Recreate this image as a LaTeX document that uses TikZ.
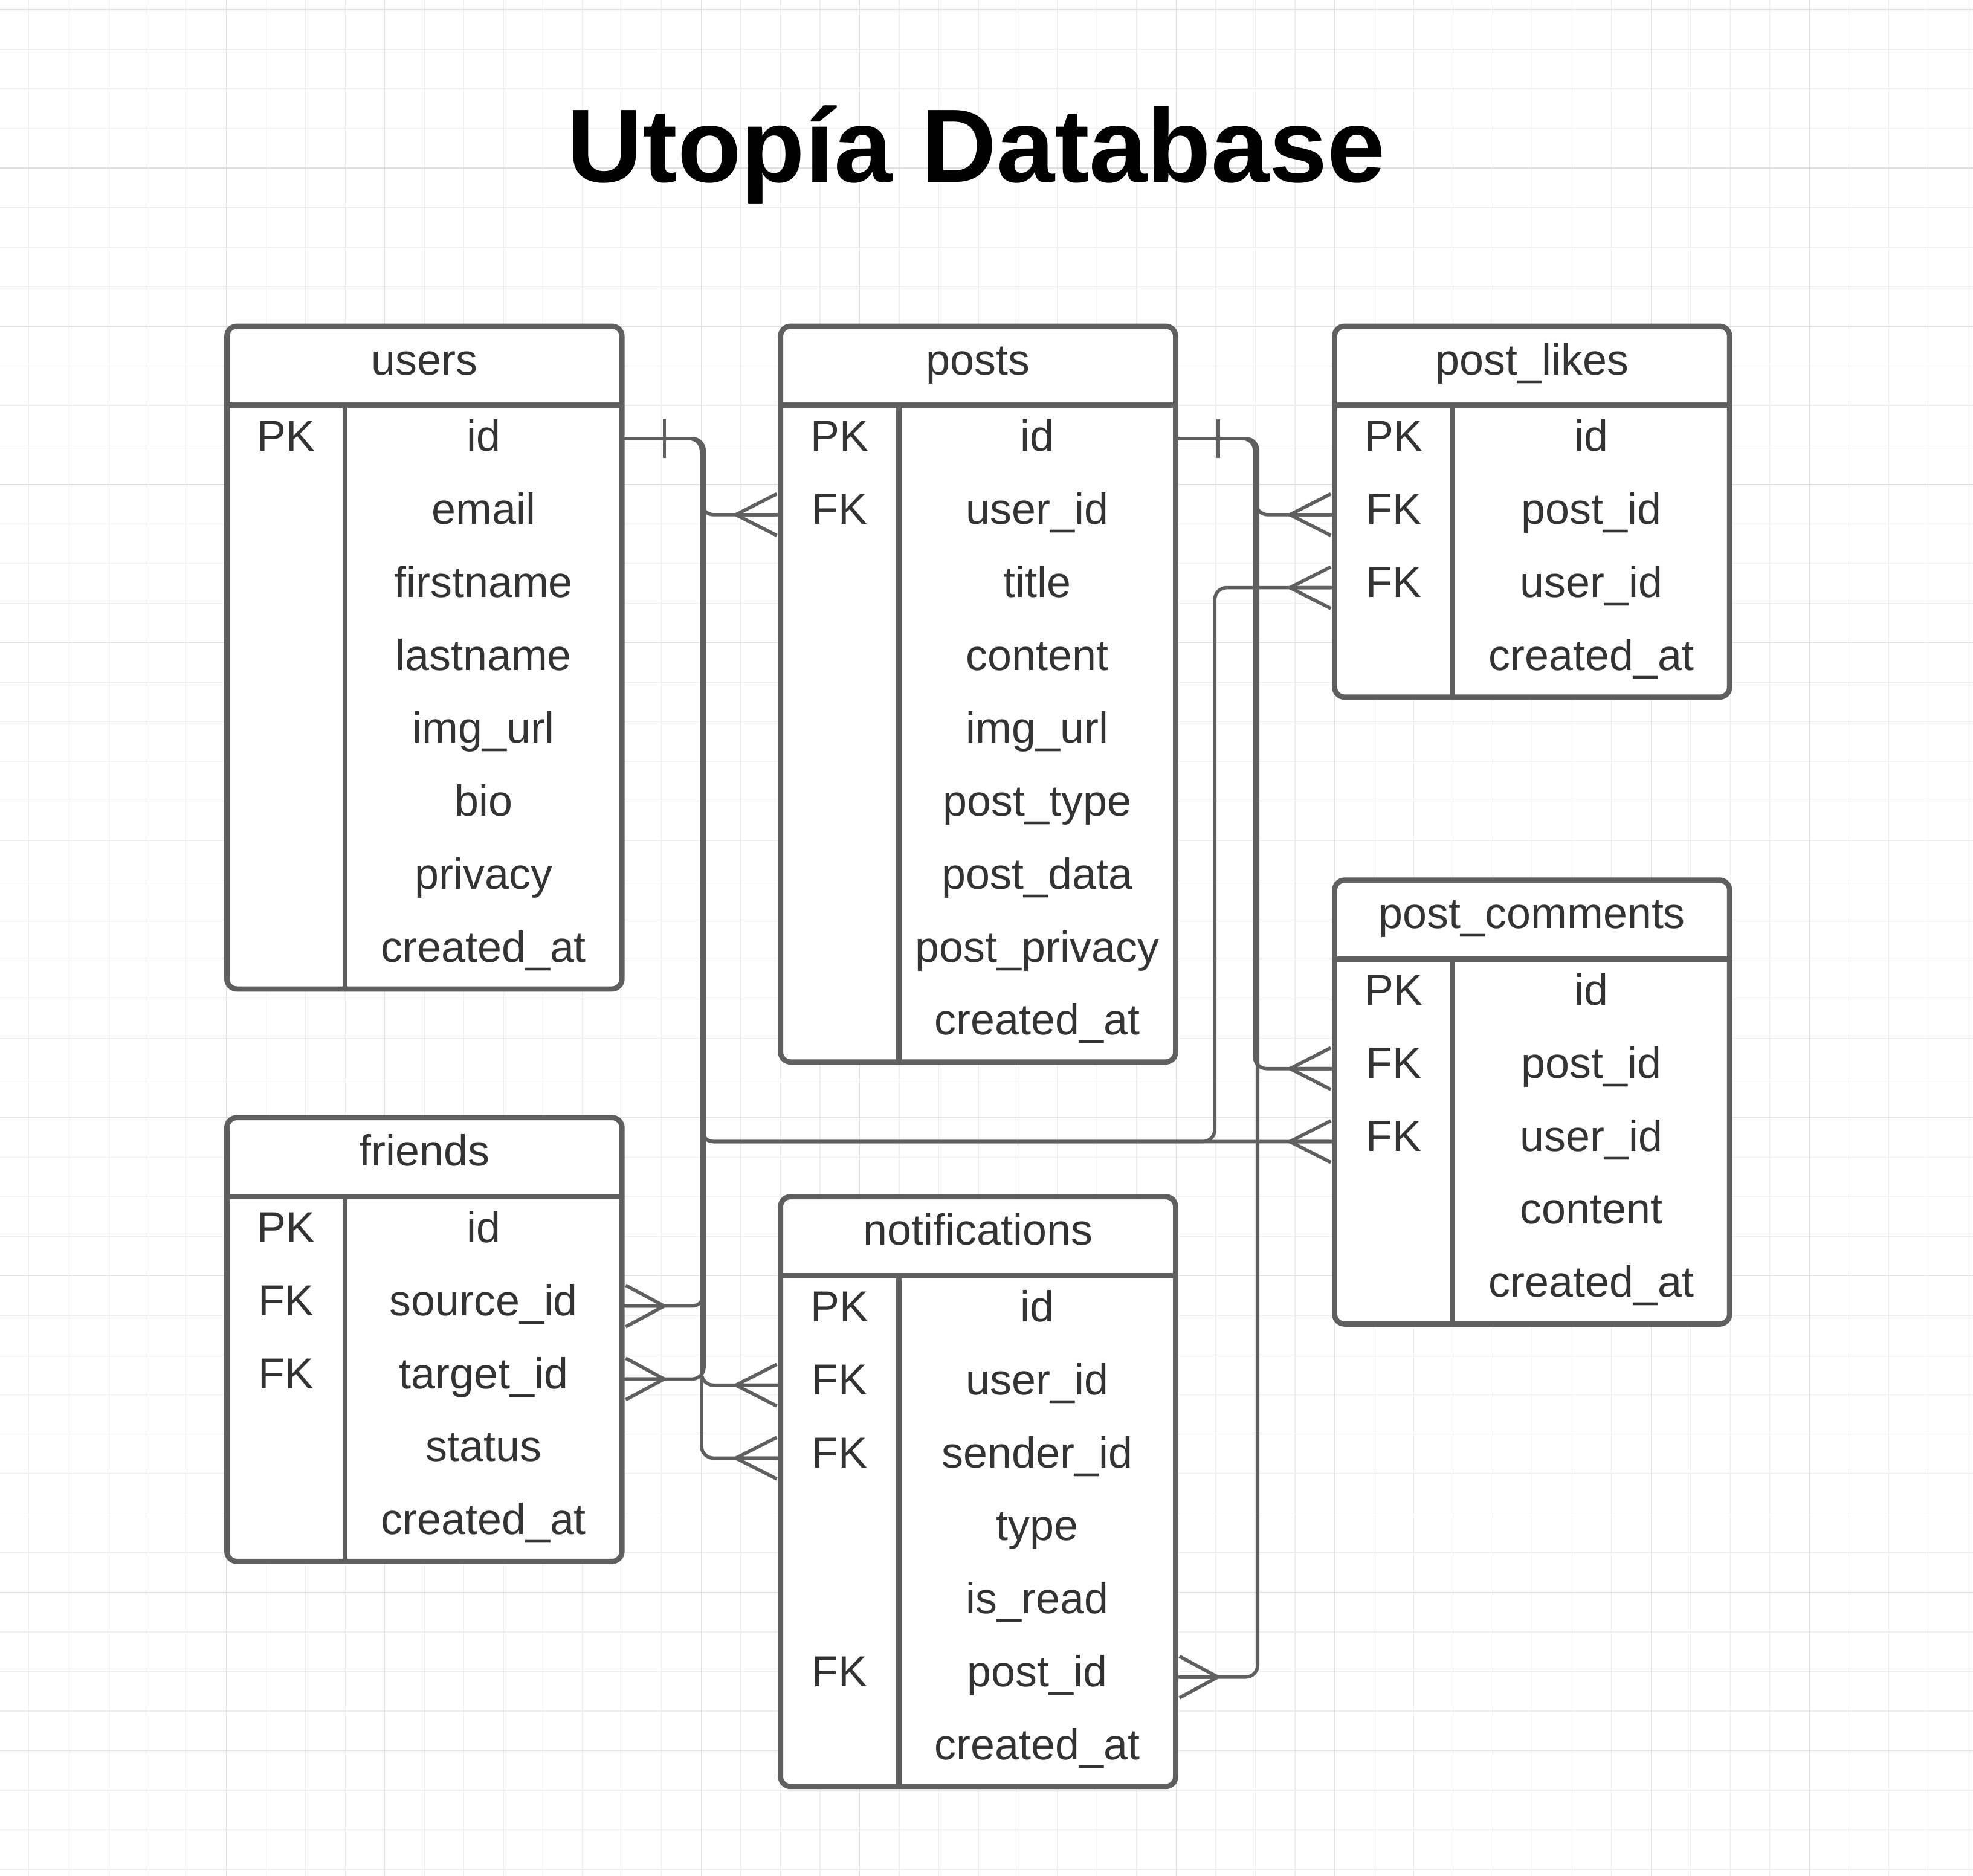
\documentclass[tikz,border=0pt]{standalone}
\usepackage{fontspec}
\setmainfont{Liberation Sans}
\definecolor{linegray}{RGB}{95,95,95}
\definecolor{txtgray}{HTML}{333333}
\definecolor{gridminor}{HTML}{EEEEEE}
\definecolor{gridmajor}{HTML}{E0E0E0}
\tikzset{
  boxline/.style={draw=linegray, line width=4.2pt},
  divline/.style={draw=linegray, line width=4pt},
  conn/.style={draw=linegray, line width=2.7pt, rounded corners=9.5pt},
  crowline/.style={draw=linegray, line width=2.7pt},
  gminor/.style={draw=gridminor, line width=0.6pt},
  gmajor/.style={draw=gridmajor, line width=0.6pt},
  celltext/.style={text=txtgray, font=\fontsize{34.5}{40}\selectfont, inner sep=0pt, anchor=base},
  crowL/.pic={\draw[crowline] (-35.5,0) -- (-3,16.5) (-35.5,0) -- (-3,-16.5) (-35.5,0) -- (-3,0);},
  crowR/.pic={\draw[crowline] (33.5,0) -- (3,16.5) (33.5,0) -- (3,-16.5) (33.5,0) -- (3,0);},
  tickR/.pic={\draw[crowline] (33.8,-15.5) -- (33.8,15.5);}
}
\newcommand{\ertable}[6]{%
  \pgfmathsetmacro\tL{#2}%
  \pgfmathsetmacro\tT{#3}%
  \pgfmathsetmacro\tH{#3+62.8}%
  \pgfmathsetmacro\tB{#3+62.8+58*#5}%
  \draw[boxline, fill=white, rounded corners=8pt] (\tL,\tT) rectangle (\tL+314,\tB);
  \draw[boxline] (\tL,\tH) -- (\tL+314,\tH);
  \draw[divline] (\tL+94,\tH) -- (\tL+94,\tB);
  \node[celltext] (#1) at (\tL+157,\tT+38.5) {#4};
  \foreach \k/\f [count=\i from 0] in {#6} {
    \pgfmathsetmacro\ty{\tH+36.5+58*\i}
    \pgfmathsetmacro\cy{\tH+29+58*\i-2.5*(\i==0)}
    \node[celltext] (#1-k\i) at (\tL+47,\ty) {\k};
    \node[celltext] (#1-f\i) at (\tL+204,\ty) {\f};
    \coordinate (#1-\i-L) at (\tL,\cy);
    \coordinate (#1-\i-R) at (\tL+314,\cy);
  }
}
\begin{document}
\begin{tikzpicture}[x=1pt,y=-1pt]
\useasboundingbox (0,0) rectangle (1568,1491);
\fill[white] (0,0) rectangle (1568,1491);
% grid
\foreach \k in {0,...,49} {\draw[gminor] (22.7+31.45*\k,0) -- (22.7+31.45*\k,1491);}
\foreach \k in {0,...,47} {\draw[gminor] (0,7.7+31.45*\k) -- (1568,7.7+31.45*\k);}
\foreach \k in {0,...,12} {\draw[gmajor] (54.15+125.8*\k,0) -- (54.15+125.8*\k,1491);}
\foreach \k in {0,...,11} {\draw[gmajor] (0,7.7+125.8*\k) -- (1568,7.7+125.8*\k);}
% title
\node[font=\fontsize{83}{90}\selectfont\bfseries, anchor=base, inner sep=0pt] (title) at (776,145) {Utopía Database};
% tables
\ertable{users}{180.3}{259.3}{users}{8}{PK/id, {}/email, {}/firstname, {}/lastname, {}/img\_url, {}/bio, {}/privacy, {}/created\_at}
\ertable{posts}{620.3}{259.3}{posts}{9}{PK/id, FK/user\_id, {}/title, {}/content, {}/img\_url, {}/post\_type, {}/post\_data, {}/post\_privacy, {}/created\_at}
\ertable{likes}{1060.6}{259.3}{post\_likes}{4}{PK/id, FK/post\_id, FK/user\_id, {}/created\_at}
\ertable{comments}{1060.6}{699.6}{post\_comments}{5}{PK/id, FK/post\_id, FK/user\_id, {}/content, {}/created\_at}
\ertable{friends}{180.3}{888.3}{friends}{5}{PK/id, FK/source\_id, FK/target\_id, {}/status, {}/created\_at}
\ertable{notif}{620.3}{951.2}{notifications}{7}{PK/id, FK/user\_id, FK/sender\_id, {}/type, {}/is\_read, FK/post\_id, {}/created\_at}
% trunks
\coordinate (uT) at (557.5,0);
\coordinate (uF) at (559.5,0);
\coordinate (pT) at (998,0);
\coordinate (pT2) at (997,0);
\coordinate (pT3) at (999.5,0);
\coordinate (lkT) at (965.4,0);
% connectors from users.id
\draw[conn] (users-0-R) -- (uT |- users-0-R) -- (uT |- posts-1-L) -- (posts-1-L);
\draw[conn] (users-0-R) -- (uT |- users-0-R) -- (uT |- comments-2-L) -- (lkT |- comments-2-L) -- (lkT |- likes-2-L) -- (likes-2-L);
\draw[conn] (users-0-R) -- (uT |- users-0-R) -- (uT |- comments-2-L) -- (comments-2-L);
\draw[conn] (users-0-R) -- (uF |- users-0-R) -- (uF |- friends-1-R) -- (friends-1-R);
\draw[conn] (users-0-R) -- (uF |- users-0-R) -- (uF |- friends-2-R) -- (friends-2-R);
\draw[conn] (users-0-R) -- (uT |- users-0-R) -- (uT |- notif-1-L) -- (notif-1-L);
\draw[conn] (users-0-R) -- (uT |- users-0-R) -- (uT |- notif-2-L) -- (notif-2-L);
% connectors from posts.id
\draw[conn] (posts-0-R) -- (pT |- posts-0-R) -- (pT |- likes-1-L) -- (likes-1-L);
\draw[conn] (posts-0-R) -- (pT2 |- posts-0-R) -- (pT2 |- comments-1-L) -- (comments-1-L);
\draw[conn] (posts-0-R) -- (pT3 |- posts-0-R) -- (pT3 |- notif-5-R) -- (notif-5-R);
% ends
\pic at (users-0-R) {tickR};
\pic at (posts-0-R) {tickR};
\pic at (posts-1-L) {crowL};
\pic at (likes-1-L) {crowL};
\pic at (likes-2-L) {crowL};
\pic at (comments-1-L) {crowL};
\pic at (comments-2-L) {crowL};
\pic at (notif-1-L) {crowL};
\pic at (notif-2-L) {crowL};
\pic at (friends-1-R) {crowR};
\pic at (friends-2-R) {crowR};
\pic at (notif-5-R) {crowR};
\end{tikzpicture}
\end{document}
